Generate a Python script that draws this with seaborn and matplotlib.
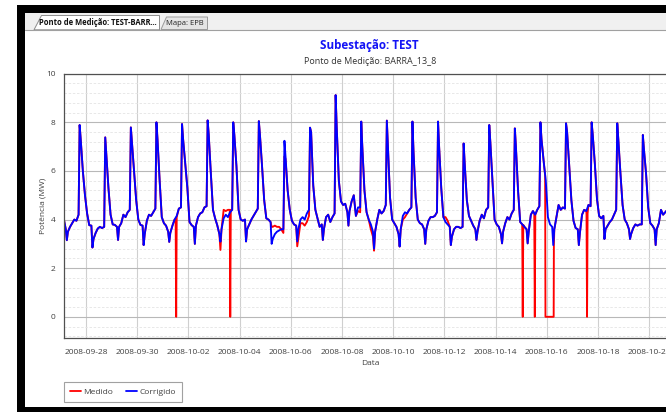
import pandas as pd
import matplotlib
matplotlib.use("Agg")
import matplotlib.pyplot as plt
import matplotlib.dates as mdates
from matplotlib.patches import Rectangle, Polygon
from matplotlib.lines import Line2D
from matplotlib.ticker import MultipleLocator, FixedLocator
import seaborn as sns

# Hours of the day at which each daily reading is stored
HOURS = [1, 3, 5, 6, 7, 9, 11, 13, 15, 17, 18, 19, 21, 23]
FIRST_DAY = "2008-09-27"

# Corrected power (MW), one row per day from 2008-09-27 to 2008-10-20
CORRIGIDO = [
    [None, 4.05, 3.60, 3.15, 3.50, 3.70, 3.85, 4.00, 3.95, 4.20, 7.89, 7.30, 6.00, 5.00],
    [4.25, 3.77, 3.75, 2.85, 3.20, 3.45, 3.63, 3.70, 3.65, 3.70, 7.38, 6.70, 5.30, 4.20],
    [3.80, 3.78, 3.70, 3.16, 3.70, 3.85, 4.20, 4.10, 4.30, 4.40, 7.79, 7.20, 6.00, 4.80],
    [4.00, 3.78, 3.75, 2.95, 3.40, 3.95, 4.20, 4.15, 4.30, 4.45, 8.00, 7.30, 5.60, 4.10],
    [3.85, 3.75, 3.50, 3.08, 3.45, 3.75, 4.00, 4.15, 4.45, 4.50, 7.93, 7.30, 6.30, 5.30],
    [3.90, 3.77, 3.70, 3.00, 3.75, 4.10, 4.25, 4.30, 4.50, 4.55, 8.08, 7.50, 5.90, 4.40],
    [4.05, 3.77, 3.40, 3.09, 3.60, 4.05, 4.20, 4.10, 4.30, 4.40, 8.00, 7.50, 6.20, 4.40],
    [4.00, 3.95, 4.00, 3.10, 3.60, 3.80, 4.00, 4.15, 4.30, 4.45, 8.05, 7.50, 6.20, 4.80],
    [4.05, 4.00, 3.90, 3.00, 3.20, 3.40, 3.50, 3.55, 3.60, 3.60, 7.24, 6.60, 5.20, 4.40],
    [3.95, 3.80, 3.75, 3.10, 3.60, 4.00, 4.10, 4.00, 4.25, 4.40, 7.78, 7.60, 5.40, 4.40],
    [4.05, 3.70, 3.80, 3.16, 3.60, 4.10, 4.20, 3.90, 4.10, 4.25, 9.12, 7.80, 5.60, 4.75],
    [4.60, 4.65, 4.30, 3.75, 4.35, 4.75, 5.00, 4.15, 4.50, 4.50, 8.03, 7.00, 5.20, 4.30],
    [4.00, 3.80, 3.50, 2.80, 3.50, 4.00, 4.40, 4.25, 4.35, 4.60, 8.07, 7.00, 4.90, 4.00],
    [3.85, 3.70, 3.40, 2.89, 3.60, 4.15, 4.30, 4.25, 4.40, 4.50, 8.03, 6.80, 4.90, 4.00],
    [3.85, 3.80, 3.60, 3.00, 3.60, 3.95, 4.10, 4.10, 4.15, 4.30, 8.03, 7.00, 5.30, 4.10],
    [3.90, 3.80, 3.70, 2.95, 3.30, 3.60, 3.70, 3.70, 3.65, 3.70, 7.13, 6.30, 4.80, 4.15],
    [3.95, 3.75, 3.60, 3.16, 3.50, 3.95, 4.20, 4.05, 4.40, 4.50, 7.89, 7.20, 5.60, 4.00],
    [3.80, 3.70, 3.40, 3.02, 3.50, 3.85, 4.10, 4.00, 4.25, 4.40, 7.75, 7.00, 5.20, 3.90],
    [3.80, 3.70, 3.60, 3.02, 3.50, 4.20, 4.35, 4.20, 4.40, 4.55, 8.00, 7.30, 6.40, 5.60],
    [4.10, 3.80, 3.70, 2.95, 3.60, 4.10, 4.60, 4.40, 4.50, 4.45, 7.96, 7.60, 6.20, 4.80],
    [3.95, 3.65, 3.60, 2.95, 3.45, 4.20, 4.40, 4.35, 4.60, 4.55, 8.00, 7.50, 6.30, 4.85],
    [4.15, 4.05, 4.15, 3.20, 3.60, 3.75, 3.90, 4.00, 4.20, 4.40, 7.96, 7.30, 5.90, 4.60],
    [4.00, 3.85, 3.60, 3.20, 3.40, 3.65, 3.80, 3.75, 3.80, 3.80, 7.48, 6.90, 5.90, 4.50],
    [3.85, 3.75, 3.60, 2.95, 3.60, 3.85, 4.40, 4.20, 4.30, 4.40, 7.80, 7.20, 5.80, 4.60],
]

# Measured power where it differs from the corrected one: (day, [(hour, MW), ...])
MEDIDO_AJUSTES = [
    ("2008-10-01", [(12.0, 3.95), (12.5, 0.0), (13.0, 4.10)]),
    ("2008-10-03", [(6, 2.75), (7, 3.60), (9, 4.40), (11, 4.35), (13, 4.40),
                    (14.7, 4.40), (15.2, 0.0), (15.7, 4.40)]),
    ("2008-10-05", [(6, 3.70), (7, 3.70), (9, 3.75), (11, 3.70), (13, 3.70),
                    (15, 3.60), (17, 3.45), (18, 6.60), (19, 6.50)]),
    ("2008-10-06", [(6, 2.90), (9, 3.85), (11, 3.85), (13, 3.75), (15, 3.90), (17, 4.15)]),
    ("2008-10-08", [(15, 4.35), (17, 4.30)]),
    ("2008-10-09", [(3, 3.60), (5, 3.30), (6, 2.72)]),
    ("2008-10-10", [(9, 4.00), (11, 4.10)]),
    ("2008-10-12", [(1, 4.10), (3, 3.95)]),
    ("2008-10-15", [(0.9, 3.80), (1.4, 0.0), (1.9, 3.78)]),
    ("2008-10-15", [(12.2, 4.25), (12.7, 0.0), (13.2, 4.20)]),
    ("2008-10-15", [(22.4, 5.80), (22.7, 0.0), (30.4, 0.0), (30.6, 2.95)]),
    ("2008-10-17", [(13.2, 4.20), (13.7, 0.0), (14.2, 4.25)]),
]

SERIES = ["Medido", "Corrigido"]
COLORS = {"Medido": "#ff0000", "Corrigido": "#0000ff"}
TICK_DATES = ["2008-09-28", "2008-09-30", "2008-10-02", "2008-10-04", "2008-10-06",
              "2008-10-08", "2008-10-10", "2008-10-12", "2008-10-14", "2008-10-16",
              "2008-10-18", "2008-10-20"]
X_RANGE = ("2008-09-27 03:20", "2008-10-21 00:00")
Y_RANGE = (-0.86, 10)

TITLE = "Subestação: TEST"
SUBTITLE = "Ponto de Medição: BARRA_13_8"
TABS = ["Ponto de Medição: TEST-BARR...", "Mapa: EPB"]

# ---- build the two series -------------------------------------------------
days = pd.date_range(FIRST_DAY, periods=len(CORRIGIDO), freq="D")
t_list, v_list = [], []
for day, row in zip(days, CORRIGIDO):
    for h, v in zip(HOURS, row):
        if v is not None:
            t_list.append(day + pd.Timedelta(hours=h))
            v_list.append(v)
corrigido = pd.Series(v_list, index=pd.DatetimeIndex(t_list))

medido = corrigido.copy()
for day, pts in MEDIDO_AJUSTES:
    tt = [pd.Timestamp(day) + pd.Timedelta(hours=h) for h, _ in pts]
    medido = medido[(medido.index < min(tt)) | (medido.index > max(tt))]
    medido = pd.concat([medido, pd.Series([v for _, v in pts], index=pd.DatetimeIndex(tt))])
medido = medido.sort_index()

df = pd.concat([
    pd.DataFrame({"Data": medido.index, "Potência": medido.values, "Série": "Medido"}),
    pd.DataFrame({"Data": corrigido.index, "Potência": corrigido.values, "Série": "Corrigido"}),
], ignore_index=True)

# ---- figure --------------------------------------------------------------
sns.set_theme(style="white")
plt.rcParams["font.family"] = ["Open Sans", "DejaVu Sans"]

W, H = 666, 412
fig = plt.figure(figsize=(W / 100, H / 100), dpi=100)
fig.patch.set_facecolor("white")


def fx(x):
    return x / W


def fy(y):
    return 1 - y / H


def rect(x0, y0, x1, y1, **kw):
    fig.add_artist(Rectangle((fx(x0), fy(y1)), (x1 - x0) / W, (y1 - y0) / H,
                             transform=fig.transFigure, **kw))


def poly(points, **kw):
    fig.add_artist(Polygon([(fx(x), fy(y)) for x, y in points], closed=True,
                           transform=fig.transFigure, **kw))


# window frame and tab strip
rect(17, 5, W, 13, facecolor="black", edgecolor="none")
rect(17, 5, 25, H, facecolor="black", edgecolor="none")
rect(17, 407, W, H, facecolor="black", edgecolor="none")
rect(25, 13, W, 29.5, facecolor="#f0f0f0", edgecolor="none")
fig.add_artist(Line2D([fx(25), fx(W)], [fy(29.5), fy(29.5)], transform=fig.transFigure,
                      color="#a0a0a0", lw=0.8))
poly([(161, 29.5), (166.5, 17), (207.5, 17), (207.5, 29.5)],
     facecolor="#e4e4e4", edgecolor="#9a9a9a", lw=0.7)
poly([(34, 29.8), (41.5, 15.5), (159.5, 15.5), (159.5, 29.8)],
     facecolor="white", edgecolor="#8c8c8c", lw=0.7)
fig.text(fx(98), fy(22.8), TABS[0], ha="center", va="center", fontsize=5.5,
         weight="bold", color="#111111")
fig.text(fx(185), fy(23.2), TABS[1], ha="center", va="center", fontsize=5.5,
         color="#222222")

# titles
fig.text(fx(369), fy(45.5), TITLE, ha="center", va="center", fontsize=8.4,
         weight="bold", color="#1414f5")
fig.text(fx(370), fy(61.5), SUBTITLE, ha="center", va="center", fontsize=6.5,
         color="#333333")

# plot area
x0 = pd.Timestamp(X_RANGE[0])
x1 = pd.Timestamp(X_RANGE[1])
ax_left, ax_top, ax_bottom = 64, 73.7, 337.7
px_per_day = 25.6
ax_right = ax_left + (x1 - x0).total_seconds() / 86400 * px_per_day
ax = fig.add_axes([fx(ax_left), fy(ax_bottom), (ax_right - ax_left) / W,
                   (ax_bottom - ax_top) / H])
ax.set_facecolor("white")

sns.lineplot(data=df, x="Data", y="Potência", hue="Série", hue_order=SERIES,
             palette=COLORS, estimator=None, linewidth=1.35, legend=False, ax=ax)

ax.set_xlim(x0, x1)
ax.set_ylim(*Y_RANGE)
ax.xaxis.set_major_locator(FixedLocator(mdates.date2num(pd.to_datetime(TICK_DATES))))
ax.xaxis.set_major_formatter(mdates.DateFormatter("%Y-%m-%d"))
ax.yaxis.set_major_locator(MultipleLocator(2))
ax.yaxis.set_minor_locator(MultipleLocator(0.4))

ax.grid(which="major", axis="y", color="#b8b8b8", lw=0.8)
ax.grid(which="major", axis="x", color="#cfcfcf", lw=0.8)
ax.grid(which="minor", axis="y", color="#e4e4e4", lw=0.6, ls=(0, (3, 2)))
ax.set_axisbelow(True)

for side in ["left", "bottom", "top", "right"]:
    ax.spines[side].set_color("#505050")
    ax.spines[side].set_linewidth(0.9)

ax.tick_params(axis="both", which="major", direction="out", length=4, width=0.8,
               color="#505050", labelsize=6.0, labelcolor="#404040", pad=2)
ax.tick_params(axis="y", which="minor", direction="out", length=2.5, width=0.7,
               color="#505050")
ax.tick_params(axis="x", which="major", pad=4)

ax.set_xlabel("Data", fontsize=6.0, color="#404040")
ax.set_ylabel("Potência (MW)", fontsize=6.0, color="#404040")
ax.xaxis.set_label_coords((370 - ax_left) / (ax_right - ax_left),
                          (ax_bottom - 360) / (ax_bottom - ax_top))
ax.yaxis.set_label_coords((47 - ax_left) / (ax_right - ax_left), 0.5)

# legend box under the plot
handles = [Line2D([], [], color=COLORS[s], lw=1.3) for s in SERIES]
leg = fig.legend(handles, SERIES, loc="lower left",
                 bbox_to_anchor=(fx(64), fy(402)), ncol=2, frameon=True,
                 fancybox=False, edgecolor="#8a8a8a", fontsize=6.0,
                 handlelength=1.3, handletextpad=0.3, columnspacing=1.5,
                 borderpad=0.75, borderaxespad=0)
leg.get_frame().set_linewidth(0.8)
for t in leg.get_texts():
    t.set_color("#404040")

fig.savefig("out.png", dpi=100)
